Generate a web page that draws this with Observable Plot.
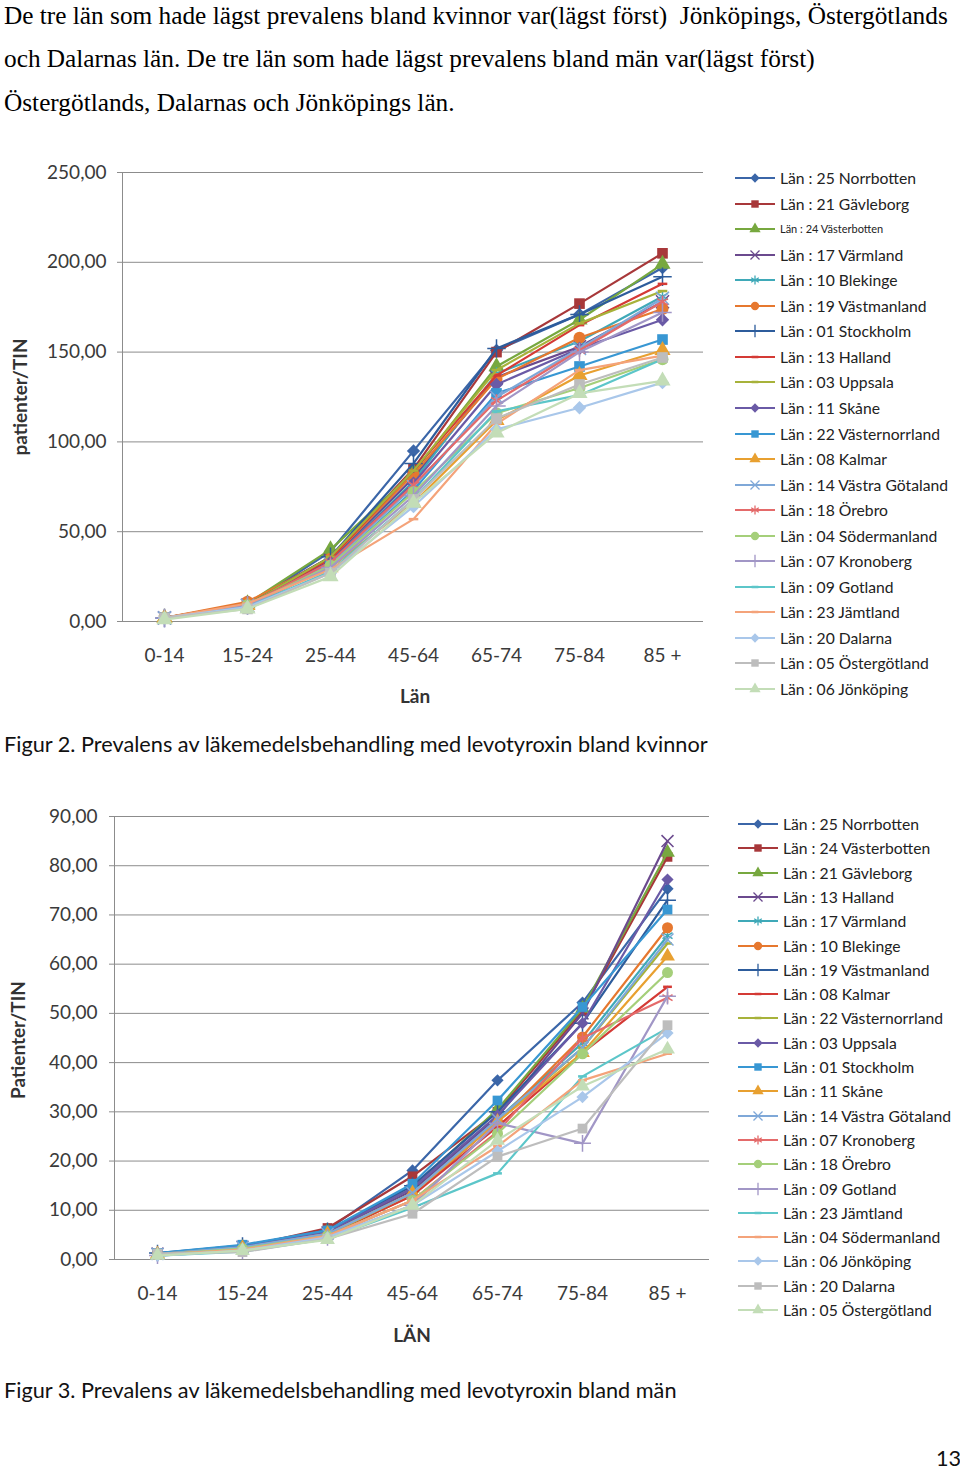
<!DOCTYPE html>
<html><head><meta charset="utf-8">
<script src="https://cdn.jsdelivr.net/npm/d3@7"></script>
<script src="https://cdn.jsdelivr.net/npm/@observablehq/plot@0.6"></script>
<style>
body{margin:0;background:#fff;}
#page{position:relative;width:960px;height:1470px;overflow:hidden;font-family:Lato,"Open Sans",sans-serif;color:#222;}
.abs{position:absolute;white-space:nowrap;}
.para{font-family:"Liberation Serif","Times New Roman",serif;font-size:25.3px;color:#000;line-height:30px;left:4px;white-space:pre;}
.cap{font-family:Lato,sans-serif;font-size:21.7px;color:#111;left:4px;line-height:26px;}
.atitle{font-family:Lato,sans-serif;font-weight:bold;font-size:19px;color:#333;line-height:22px;}
.leg{font-family:Lato,sans-serif;font-size:15.7px;color:#222;line-height:18px;display:flex;align-items:center;}
.leg svg{display:block;margin-right:4px;}
</style></head>
<body><div id="page"></div>
<script>
// ---------- data ----------
const ageGroups = ["0-14","15-24","25-44","45-64","65-74","75-84","85 +"];
const yTicksWomen = [0,50,100,150,200,250];
const yTicksMen = [0,10,20,30,40,50,60,70,80,90];

const womenCounties = [
  "Län : 25 Norrbotten","Län : 21 Gävleborg","Län : 24 Västerbotten","Län : 17 Värmland",
  "Län : 10 Blekinge","Län : 19 Västmanland","Län : 01 Stockholm","Län : 13 Halland",
  "Län : 03 Uppsala","Län : 11 Skåne","Län : 22 Västernorrland","Län : 08 Kalmar",
  "Län : 14 Västra Götaland","Län : 18 Örebro","Län : 04 Södermanland","Län : 07 Kronoberg",
  "Län : 09 Gotland","Län : 23 Jämtland","Län : 20 Dalarna","Län : 05 Östergötland","Län : 06 Jönköping"
];
const womenValues = [
  [2, 9, 39, 95, 151, 171, 197],
  [2, 10, 36, 85, 150, 177, 205],
  [2, 10, 40, 83, 142, 168, 199],
  [2, 9, 34, 80, 136, 153, 178],
  [2, 9, 33, 78, 138, 156, 181],
  [2, 11, 35, 82, 135, 158, 174],
  [2, 9, 36, 88, 152, 171, 192],
  [2, 9, 35, 84, 137, 165, 188],
  [2, 9, 36, 84, 140, 166, 184],
  [2, 9, 33, 77, 132, 152, 168],
  [2, 8, 31, 73, 127, 142, 157],
  [2, 9, 30, 66, 112, 137, 151],
  [2, 9, 32, 75, 125, 152, 180],
  [2, 9, 33, 76, 123, 151, 178],
  [2, 9, 31, 72, 116, 130, 146],
  [2, 9, 30, 70, 120, 150, 172],
  [2, 8, 28, 68, 117, 126, 146],
  [2, 10, 29, 57, 110, 140, 148],
  [2, 8, 27, 64, 107, 119, 133],
  [2, 7, 27, 68, 113, 132, 147],
  [1, 7, 25, 66, 105, 127, 134]
];

const menCounties = [
  "Län : 25 Norrbotten","Län : 24 Västerbotten","Län : 21 Gävleborg","Län : 13 Halland",
  "Län : 17 Värmland","Län : 10 Blekinge","Län : 19 Västmanland","Län : 08 Kalmar",
  "Län : 22 Västernorrland","Län : 03 Uppsala","Län : 01 Stockholm","Län : 11 Skåne",
  "Län : 14 Västra Götaland","Län : 07 Kronoberg","Län : 18 Örebro","Län : 09 Gotland",
  "Län : 23 Jämtland","Län : 04 Södermanland","Län : 06 Jönköping","Län : 20 Dalarna","Län : 05 Östergötland"
];
const menValues = [
  [1.2, 2.8, 6.0, 18.1, 36.4, 52.2, 75.3],
  [1.0, 2.5, 6.4, 16.9, 30.0, 50.5, 81.8],
  [1.0, 2.5, 5.8, 14.5, 30.5, 51.0, 82.7],
  [1.2, 2.6, 5.5, 14.0, 29.0, 50.0, 85.0],
  [1.0, 2.4, 5.2, 13.5, 28.5, 44.0, 65.8],
  [1.0, 2.2, 5.0, 13.0, 28.0, 45.2, 67.4],
  [1.3, 2.8, 5.8, 15.0, 30.0, 48.0, 73.0],
  [1.0, 2.0, 5.0, 13.0, 27.0, 42.0, 55.4],
  [1.0, 2.2, 5.0, 13.5, 28.0, 43.0, 64.2],
  [1.2, 2.6, 5.6, 14.5, 29.3, 48.0, 77.2],
  [1.3, 3.0, 5.9, 15.4, 32.3, 51.3, 71.1],
  [1.1, 2.4, 5.2, 13.5, 28.0, 42.0, 61.6],
  [1.1, 2.5, 5.2, 13.5, 28.5, 43.0, 65.0],
  [1.0, 2.0, 4.8, 12.0, 26.0, 45.0, 53.2],
  [1.0, 2.2, 4.8, 12.0, 25.6, 41.8, 58.3],
  [0.8, 1.8, 4.5, 11.0, 27.7, 23.6, 53.5],
  [0.8, 1.6, 4.2, 10.5, 17.5, 37.2, 47.0],
  [1.0, 2.0, 4.8, 12.0, 23.0, 36.4, 41.8],
  [0.8, 1.8, 4.5, 11.0, 22.0, 33.0, 46.0],
  [1.2, 1.5, 4.2, 9.3, 20.9, 26.6, 47.6],
  [0.8, 1.8, 4.0, 11.0, 24.2, 35.2, 42.7]
];

// ---------- styles ----------
const palette = ["#3b66a8","#a8383a","#77a83f","#6b4a8e","#3fa9b8","#e6782f","#2d5c9c","#d43a35","#a7b23a",
  "#6a5aa6","#3897d3","#e8a030","#7fa8d8","#e46a6a","#a5cf7a","#a196c6","#5cc6c9","#f4a37a","#a9c7ea","#bdbdbd","#c3ddb7"];
const dash = {draw(ctx, size){ const w = Math.sqrt(size/Math.PI)*0.8; ctx.moveTo(-w,0); ctx.lineTo(w,0); }};
const symbols = ["diamond2","square","triangle","times","asterisk","circle","plus",dash,dash,
  "diamond2","square","triangle","times","asterisk","circle","plus",dash,dash,"diamond2","square","triangle"];
const filledSet = new Set(["diamond2","square","triangle","circle"]);
const d3sym = {diamond2:d3.symbolDiamond2,square:d3.symbolSquare,triangle:d3.symbolTriangle,times:d3.symbolTimes,
  asterisk:d3.symbolAsterisk,circle:d3.symbolCircle,plus:d3.symbolPlus};

const fmt = d => d.toFixed(2).replace(".", ",");
const page = document.getElementById("page");

function addDiv(cls, text, css){
  const d = document.createElement("div");
  d.className = "abs " + cls; d.textContent = text;
  Object.assign(d.style, css); page.appendChild(d); return d;
}

function makeChart(cfg){
  const rows = cfg.counties.flatMap((c,i)=> cfg.values[i].map((v,j)=>({county:c, age:ageGroups[j], value:v, idx:i})));
  const marks = [
    Plot.gridY(cfg.ticks, {stroke:"#8c8c8c", strokeOpacity:1}),
    Plot.frame({anchor:"left", stroke:"#8c8c8c"}),
    Plot.axisY({ticks: cfg.ticks, tickFormat: fmt, tickSize:5, tickPadding: cfg.tickPad, stroke:"#8c8c8c", label:null}),
    Plot.axisX({tickSize:0, tickPadding:27, label:null})
  ];
  cfg.counties.forEach((c,i)=>{
    const d = rows.filter(r=>r.idx===i);
    marks.push(Plot.line(d, {x:"age", y:"value", stroke: palette[i], strokeWidth:2.2}));
    const s = symbols[i];
    if (filledSet.has(s)) marks.push(Plot.dot(d, {x:"age", y:"value", symbol:s, r:cfg.r, fill:palette[i]}));
    else marks.push(Plot.dot(d, {x:"age", y:"value", symbol:s, r:cfg.r, stroke:palette[i], strokeWidth: s===dash?2.5:1.5, fill:"none"}));
  });
  const svg = Plot.plot({
    width: cfg.width, height: cfg.height,
    marginLeft: cfg.ml, marginRight: cfg.mr, marginTop: cfg.mt, marginBottom: cfg.mb,
    x: {type:"point", domain: ageGroups, padding:0.5},
    y: {domain:[0, cfg.ticks[cfg.ticks.length-1]]},
    style: {fontFamily:"Lato, sans-serif", fontSize:"19px", color:"#3a3a3a", background:"transparent"},
    marks
  });
  const wrap = document.createElement("div");
  wrap.className = "abs"; wrap.style.left = "0px"; wrap.style.top = cfg.top + "px";
  wrap.appendChild(svg); page.appendChild(wrap);

  // legend
  cfg.counties.forEach((c,i)=>{
    const cy = cfg.legY0 + i*cfg.legStep;
    const item = document.createElement("div");
    item.className = "abs leg";
    item.style.left = cfg.legX + "px"; item.style.top = (cy - 9) + "px";
    const s = d3.select(item).append("svg").attr("width",42).attr("height",18);
    s.append("line").attr("x1",1).attr("x2",41).attr("y1",9).attr("y2",9).attr("stroke",palette[i]).attr("stroke-width",2);
    const sym = symbols[i];
    const type = sym===dash ? dash : d3sym[sym];
    const p = s.append("path").attr("transform","translate(21,9)").attr("d", d3.symbol(type, 55)());
    if (filledSet.has(sym)) p.attr("fill", palette[i]);
    else p.attr("fill","none").attr("stroke", palette[i]).attr("stroke-width", sym===dash?2.5:1.3);
    const t = document.createElement("span"); t.textContent = c;
    if (cfg.smallIdx === i) t.style.fontSize = "11px";
    item.appendChild(t);
    page.appendChild(item);
  });
}

// paragraph
addDiv("para", "De tre län som hade lägst prevalens bland kvinnor var(lägst först)  Jönköpings, Östergötlands", {top:"0px"});
addDiv("para", "och Dalarnas län. De tre län som hade lägst prevalens bland män var(lägst först)", {top:"43px"});
addDiv("para", "Östergötlands, Dalarnas och Jönköpings län.", {top:"87px"});

makeChart({counties: womenCounties, values: womenValues, ticks: yTicksWomen, top:150, width:730, height:565,
  ml:122, mr:27, mt:22, mb:94, tickPad:11, r:6, legX:734, legY0:178, legStep:25.55, smallIdx:2});
makeChart({counties: menCounties, values: menValues, ticks: yTicksMen, top:790, width:730, height:570,
  ml:114, mr:21, mt:26, mb:101, tickPad:12, r:5.5, legX:737, legY0:824, legStep:24.3, smallIdx:-1});

// axis titles
addDiv("atitle", "patienter/TIN", {left:"20px", top:"397px", transform:"translate(-50%,-50%) rotate(-90deg)"});
addDiv("atitle", "Län", {left:"415px", top:"696px", transform:"translate(-50%,-50%)"});
addDiv("atitle", "Patienter/TIN", {left:"18px", top:"1040px", transform:"translate(-50%,-50%) rotate(-90deg)"});
addDiv("atitle", "LÄN", {left:"412px", top:"1335px", transform:"translate(-50%,-50%)"});

// captions
addDiv("cap", "Figur 2. Prevalens av läkemedelsbehandling med levotyroxin bland kvinnor", {top:"731px"});
addDiv("cap", "Figur 3. Prevalens av läkemedelsbehandling med levotyroxin bland män", {top:"1377px"});
addDiv("cap", "13", {top:"1445px", left:"936px"});
</script></body></html>
